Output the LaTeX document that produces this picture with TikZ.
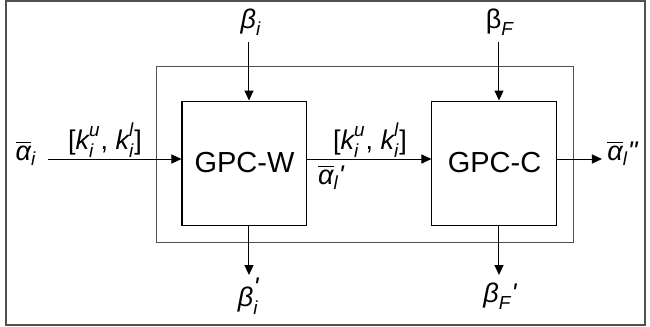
\documentclass[tikz,border=0pt]{standalone}
\usepackage{fontspec}
\setmainfont{Liberation Sans}
\usepackage{amsmath}
\usetikzlibrary{arrows.meta, positioning, calc}
\definecolor{framegrey}{HTML}{505050}
\newcommand{\vi}[1]{\textit{#1}}
\newcommand{\prm}{\textit{\textquotesingle}}
\newcommand{\dprm}{\textit{\textquotedbl}}

\begin{document}
\begin{tikzpicture}[x=0.5pt, y=-0.5pt,
    box/.style={draw=black, line width=0.5pt, fill=white,
                minimum width=62.5pt, minimum height=62pt,
                font=\fontsize{14.5}{16}\selectfont},
    lbl/.style={font=\fontsize{13.5}{15}\selectfont, inner sep=0pt},
    link/.style={-{Triangle[length=5pt, width=4.5pt]}, black, line width=0.5pt}]
  \useasboundingbox (0,0) rectangle (650,327);
  \draw[framegrey, line width=1pt] (6,1) rectangle (645,325);
  \draw[framegrey, line width=0.5pt] (157,66) rectangle (574,242);
  \node[box] (gpcw) at (244.5,163) {GPC-W};
  \node[box] (gpcc) at (494.5,163) {GPC-C};
  % main line
  \coordinate (in) at (48,159);
  \coordinate (out) at (602,159);
  \draw[link] (in) -- (in -| gpcw.west);
  \draw[link] (gpcw.east |- in) -- (gpcc.west |- in);
  \draw[link] (gpcc.east |- in) -- (out);
  \node[lbl] (ai) at (26,153) {$\overline{\vi{α}}_{\vi{i}}$};
  \node[lbl] (k1) at (105,140) {$\text{[}\vi{k}_{\vi{i}}^{\vi{u}}\text{, }\vi{k}_{\vi{i}}^{\vi{l}}\text{]}$};
  \node[lbl] (k2) at (370,140) {$\text{[}\vi{k}_{\vi{i}}^{\vi{u}}\text{, }\vi{k}_{\vi{i}}^{\vi{l}}\text{]}$};
  \node[lbl] (a1) at (331,177) {$\overline{\vi{α}}_{\vi{l}}\prm$};
  \node[lbl, anchor=west] (a2) at (607,153) {$\overline{\vi{α}}_{\vi{l}}\dprm$};
  % side inputs and outputs
  \coordinate (bi) at (249,42);
  \coordinate (bf) at (499,42);
  \coordinate (bio) at (249,275);
  \coordinate (bfo) at (499,275);
  \draw[link] (bi) -- (bi |- gpcw.north);
  \draw[link] (bf) -- (bf |- gpcc.north);
  \draw[link] (bio |- gpcw.south) -- (bio);
  \draw[link] (bfo |- gpcc.south) -- (bfo);
  \node[lbl] (bit) at (251,22) {$\vi{β}_{\vi{i}}$};
  \node[lbl] (bft) at (500,22) {$\text{β}_{\vi{F}}$};
  \node[lbl] (bib) at (249,296) {$\vi{β}_{\vi{i}}^{\mbox{\raisebox{-0.6ex}{\prm}}}$};
  \node[lbl] (bfb) at (500,296) {$\vi{β}_{\vi{F}}\prm$};
\end{tikzpicture}
\end{document}
